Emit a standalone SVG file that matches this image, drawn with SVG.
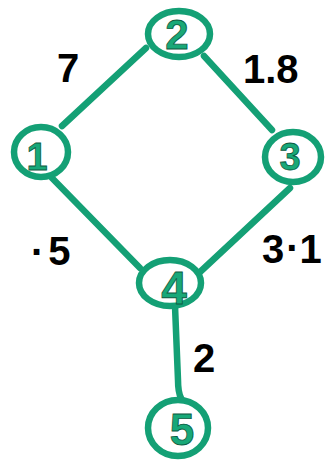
<svg xmlns="http://www.w3.org/2000/svg" width="325" height="461" viewBox="0 0 325 461">
<style>
.edge{stroke:#14a075;stroke-width:6.5;stroke-linecap:round;fill:none}
.node{stroke:#14a075;stroke-width:6.5;fill:#ffffff}
.num{font-family:"Liberation Sans",Arial,sans-serif;font-weight:bold;fill:#18a878;stroke:#0c5a40;stroke-width:0.8;text-anchor:middle}
.lbl{font-family:"Liberation Sans",Arial,sans-serif;font-weight:bold;fill:#000000;font-size:40px}
</style>
<rect width="325" height="461" fill="#ffffff"/>
<g id="edges">
<path class="edge" d="M62,126 L146,48"/>
<path class="edge" d="M204,56 L272,130"/>
<path class="edge" d="M52,178 L140,268"/>
<path class="edge" d="M290,188 L200,272"/>
<path class="edge" d="M175,306 L178,380 Q178,392 181,398"/>
</g>
<g id="node1"><ellipse class="node" cx="41" cy="152" rx="27" ry="25"/><text class="num" x="37" y="170" font-size="38">1</text></g>
<g id="node2"><ellipse class="node" cx="179" cy="34" rx="31" ry="23"/><text class="num" x="177" y="49" font-size="42">2</text></g>
<g id="node3"><ellipse class="node" cx="293" cy="157" rx="28" ry="25"/><text class="num" x="290" y="170" font-size="38">3</text></g>
<g id="node4"><ellipse class="node" cx="170" cy="283" rx="31" ry="23"/><text class="num" x="174" y="304" font-size="46">4</text></g>
<g id="node5"><ellipse class="node" cx="178" cy="428" rx="30" ry="28"/><text class="num" x="182" y="445" font-size="44">5</text></g>
<g id="labels">
<text class="lbl" x="57" y="82" font-size="44">7</text>
<text class="lbl" x="243" y="83">1.8</text>
<text class="lbl" x="31" y="255">.<tspan dx="6" dy="10">5</tspan></text>
<text class="lbl" x="262" y="263">3<tspan dx="2" dy="-12">.</tspan><tspan dx="2" dy="12">1</tspan></text>
<text class="lbl" x="193" y="372">2</text>
</g>
</svg>
